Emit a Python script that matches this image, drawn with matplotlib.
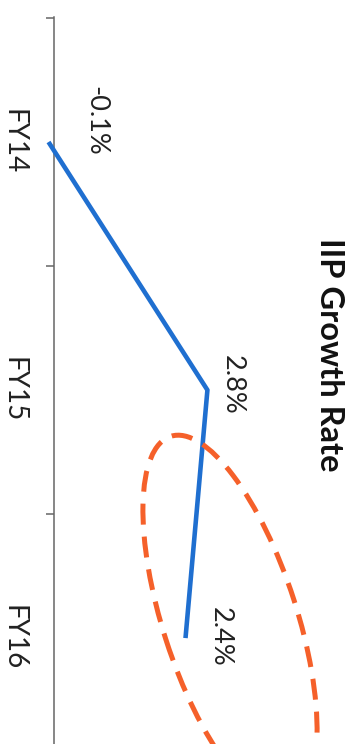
import matplotlib.pyplot as plt
from matplotlib.patches import Ellipse

plt.rcParams['font.family'] = ['Lato', 'DejaVu Sans']

# data
years = ['FY14', 'FY15', 'FY16']
growth = [-0.1, 2.8, 2.4]
labels = ['-0.1%', '2.8%', '2.4%']

fig = plt.figure(figsize=(3.51, 7.44), dpi=100)
ax = fig.add_axes([0, 0, 1, 1 - 17 / 744])

# chart is drawn turned on its side: values run left to right, years top to bottom
pos = list(range(len(years)))
ax.plot(growth, pos, color='#1f6fd0', lw=3.3, solid_capstyle='butt', zorder=3)

offsets = [(34, 15), (18, 4), (25, 1)]
for v, p, t, off in zip(growth, pos, labels, offsets):
    ax.annotate(t, (v, p), xytext=off, textcoords='offset points',
                rotation=-90, ha='center', va='center', fontsize=19.5, color='#222222')

for s in ['top', 'right', 'bottom']:
    ax.spines[s].set_visible(False)
ax.spines['left'].set_position(('data', 0))
ax.spines['left'].set_color('#666666')
ax.spines['left'].set_linewidth(1.1)

ax.set_xticks([])
ax.set_yticks(pos)
ax.set_yticklabels(years, rotation=-90, va='center', fontsize=20, color='#222222')
ax.tick_params(axis='y', which='major', length=0, pad=20)
ax.set_yticks([-0.5, 0.5, 1.5, 2.5], minor=True)
ax.tick_params(axis='y', which='minor', length=6, width=1.1, color='#666666')

# limits after the ticks, so set_yticks does not widen them
ax.set_xlim(-0.985, 5.42)
ax.set_ylim(2.427, -0.504)

fig.text(330 / 351, 1 - 355 / 744, 'IIP Growth Rate', rotation=-90, ha='center', va='center',
         fontsize=23.5, fontweight='bold', color='#111111')

# dashed highlight around the FY15-FY16 slowdown
ring = Ellipse((2.30, (744 - 620) / 100), 3.86, 1.34, angle=-72.1,
               transform=fig.dpi_scale_trans, fill=False, edgecolor='#f5602a',
               lw=3.6, ls=(0, (4.2, 2.4)), zorder=4, clip_on=False)
fig.add_artist(ring)

fig.savefig('out.png', dpi=100)
